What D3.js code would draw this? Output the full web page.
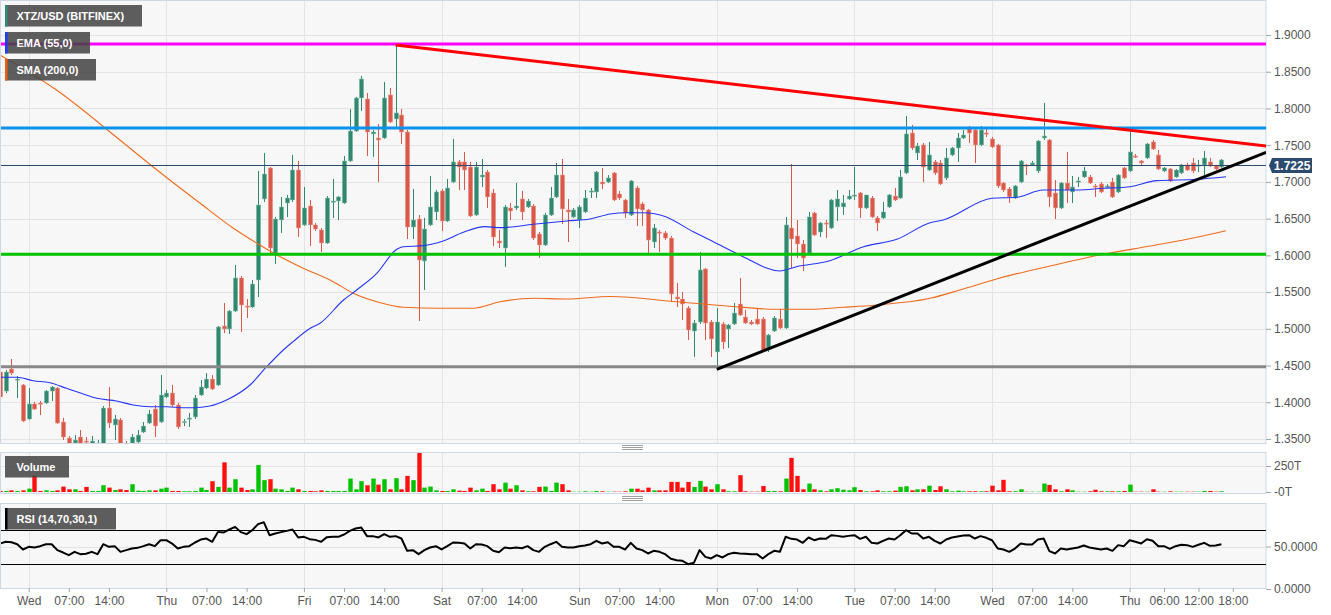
<!DOCTYPE html>
<html><head><meta charset="utf-8">
<script src="https://cdn.jsdelivr.net/npm/d3@7"></script>
<style>
html,body{margin:0;padding:0;background:#fff;}
svg{display:block;font-family:"Liberation Sans",Arial,sans-serif;}
</style></head><body>
<svg id="c" width="1331" height="615"></svg>
<script>
// ---------- DATA ----------
const startHour = -5; // first candle: Tue 19:00 (hours relative to Wed 00:00)
const ohlc = [
[1.4412,1.4466,1.4031,1.4072],[1.4153,1.4439,1.4126,1.4412],[1.4452,1.4589,1.4371,1.4398],[1.4303,1.4357,1.4058,1.4316],[1.4235,1.4249,1.3732,1.3745],
[1.3772,1.4194,1.3759,1.3977],[1.3977,1.4004,1.3895,1.3908],[1.3990,1.4017,1.3827,1.3977],[1.3990,1.4167,1.3977,1.4153],[1.4153,1.4221,1.4017,1.4208],
[1.4194,1.4208,1.3705,1.3718],[1.3732,1.3786,1.3486,1.3527],[1.3513,1.3541,1.3391,1.3432],[1.3445,1.3554,1.3404,1.3486],[1.3527,1.3622,1.3404,1.3432],
[1.3472,1.3527,1.3404,1.3459],[1.3432,1.3541,1.3404,1.3472],[1.3432,1.3486,1.3377,1.3445],[1.3404,1.3949,1.3391,1.3922],[1.3922,1.4208,1.3650,1.3718],
[1.3691,1.3827,1.3486,1.3772],[1.3759,1.3786,1.3391,1.3432],[1.3432,1.3472,1.3363,1.3391],[1.3445,1.3568,1.3404,1.3527],[1.3459,1.3622,1.3432,1.3554],
[1.3595,1.3732,1.3581,1.3677],[1.3718,1.3895,1.3705,1.3841],[1.3908,1.3963,1.3527,1.3677],[1.3732,1.4371,1.3718,1.4099],[1.4072,1.4167,1.4058,1.4126],
[1.4126,1.4235,1.3936,1.3963],[1.3963,1.3990,1.3636,1.3664],[1.3725,1.3772,1.3677,1.3739],[1.3772,1.3854,1.3664,1.3786],[1.3800,1.4099,1.3772,1.4058],
[1.4099,1.4303,1.4085,1.4208],[1.4194,1.4398,1.4181,1.4316],[1.4316,1.4371,1.4167,1.4181],[1.4235,1.5038,1.4221,1.5025],[1.5038,1.5351,1.4943,1.4998],
[1.4998,1.5256,1.4930,1.5242],[1.5242,1.5869,1.5229,1.5692],[1.5692,1.5719,1.4957,1.5324],[1.5310,1.5406,1.5147,1.5297],[1.5297,1.5665,1.5283,1.5610],
[1.5665,1.7149,1.5433,1.6686],[1.6768,1.7394,1.6727,1.7108],[1.7190,1.7203,1.6032,1.6100],[1.6032,1.6523,1.5883,1.6495],[1.6482,1.6795,1.6305,1.6659],
[1.6713,1.6822,1.6523,1.6781],[1.6754,1.7367,1.6727,1.7162],[1.7162,1.7285,1.6250,1.6373],[1.6414,1.6931,1.6400,1.6645],[1.6672,1.6754,1.6127,1.6414],
[1.6414,1.6441,1.6332,1.6359],[1.6346,1.6373,1.6046,1.6168],[1.6168,1.6808,1.6155,1.6781],[1.6727,1.7040,1.6509,1.6740],[1.6740,1.6808,1.6482,1.6795],
[1.6713,1.7353,1.6700,1.7285],[1.7285,1.7993,1.7272,1.7693],[1.7693,1.8156,1.7680,1.8143],[1.8143,1.8442,1.7966,1.8401],[1.8129,1.8211,1.7353,1.7680],
[1.7653,1.7707,1.7340,1.7680],[1.7598,1.7789,1.6999,1.7571],[1.7598,1.8361,1.7585,1.8143],[1.8184,1.8279,1.7802,1.7816],[1.7857,1.8864,1.7748,1.7939],
[1.7911,1.7993,1.7517,1.7680],[1.7680,1.7707,1.6223,1.6386],[1.6386,1.6904,1.6223,1.6482],[1.6495,1.6550,1.5106,1.5937],[1.5924,1.6509,1.5529,1.6359],
[1.6414,1.7081,1.6400,1.6659],[1.6591,1.6890,1.6482,1.6863],[1.6877,1.6904,1.6332,1.6468],[1.6468,1.7040,1.6455,1.6917],[1.6999,1.7585,1.6985,1.7272],
[1.7272,1.7299,1.6890,1.7203],[1.7272,1.7408,1.6890,1.7162],[1.7203,1.7272,1.6523,1.6536],[1.6550,1.7272,1.6536,1.7203],[1.7067,1.7312,1.6931,1.7094],
[1.7135,1.7162,1.6645,1.6795],[1.6849,1.6904,1.6127,1.6250],[1.6196,1.6346,1.6100,1.6168],[1.6100,1.6686,1.5842,1.6659],[1.6645,1.6713,1.6482,1.6604],
[1.6645,1.6985,1.6618,1.6672],[1.6768,1.6877,1.6482,1.6591],[1.6659,1.6768,1.6645,1.6740],[1.6672,1.6700,1.6209,1.6236],[1.6291,1.6318,1.5964,1.6141],
[1.6141,1.6577,1.6127,1.6550],[1.6550,1.6931,1.6536,1.6781],[1.6795,1.7258,1.6781,1.7094],[1.7094,1.7312,1.6427,1.6632],[1.6618,1.6768,1.6182,1.6591],
[1.6523,1.6645,1.6509,1.6618],[1.6482,1.6686,1.6373,1.6659],[1.6591,1.6890,1.6577,1.6781],[1.6863,1.6917,1.6781,1.6877],[1.6863,1.7149,1.6781,1.7135],
[1.6999,1.7190,1.6904,1.6972],[1.6999,1.7094,1.6985,1.7054],[1.7122,1.7135,1.6740,1.6754],[1.6836,1.6877,1.6754,1.6781],[1.6754,1.6768,1.6509,1.6577],
[1.6550,1.7026,1.6536,1.7013],[1.6917,1.6945,1.6400,1.6632],[1.6700,1.6727,1.6400,1.6618],[1.6618,1.6632,1.6032,1.6209],[1.6182,1.6427,1.6100,1.6373],
[1.6318,1.6346,1.6046,1.6305],[1.6305,1.6332,1.6209,1.6236],[1.6236,1.6264,1.5365,1.5474],[1.5433,1.5624,1.5297,1.5406],[1.5406,1.5501,1.5120,1.5338],
[1.5283,1.5310,1.4848,1.4984],[1.4970,1.5120,1.4617,1.5079],[1.5093,1.6046,1.5066,1.5801],[1.5815,1.5828,1.4848,1.5079],[1.5093,1.5120,1.4617,1.4862],
[1.4685,1.5283,1.4453,1.5093],[1.5066,1.5093,1.4725,1.4821],[1.4998,1.5066,1.4739,1.5052],[1.5066,1.5351,1.5052,1.5215],[1.5338,1.5692,1.5174,1.5188],
[1.5161,1.5256,1.5066,1.5079],[1.5093,1.5120,1.5052,1.5066],[1.5133,1.5283,1.5052,1.5066],[1.5133,1.5161,1.4698,1.4712],[1.4739,1.4930,1.4685,1.4916],
[1.4970,1.5174,1.4957,1.5147],[1.5133,1.5270,1.4998,1.5011],[1.5011,1.6523,1.4998,1.6414],[1.6373,1.7244,1.5828,1.6223],[1.6264,1.6482,1.5964,1.6155],
[1.6155,1.6209,1.5787,1.5964],[1.6032,1.6591,1.6019,1.6523],[1.6577,1.6591,1.6264,1.6277],[1.6318,1.6455,1.6250,1.6441],[1.6441,1.6482,1.6236,1.6427],
[1.6373,1.6768,1.6359,1.6754],[1.6659,1.6890,1.6468,1.6768],[1.6659,1.6822,1.6550,1.6713],[1.6768,1.6890,1.6754,1.6808],[1.6808,1.7203,1.6754,1.6822],
[1.6849,1.6863,1.6509,1.6645],[1.6645,1.6822,1.6632,1.6822],[1.6781,1.6808,1.6509,1.6523],[1.6509,1.6536,1.6332,1.6441],[1.6509,1.6727,1.6495,1.6591],
[1.6659,1.6836,1.6645,1.6822],[1.6808,1.6917,1.6740,1.6754],[1.6781,1.7162,1.6768,1.7067],[1.7122,1.7898,1.7108,1.7653],[1.7666,1.7775,1.7435,1.7462],
[1.7394,1.7530,1.7299,1.7489],[1.7503,1.7530,1.6999,1.7203],[1.7162,1.7544,1.7149,1.7367],[1.7272,1.7299,1.7094,1.7122],[1.7258,1.7299,1.6958,1.6972],
[1.7054,1.7462,1.7026,1.7326],[1.7367,1.7476,1.7353,1.7462],[1.7462,1.7666,1.7272,1.7598],[1.7598,1.7707,1.7585,1.7639],[1.7721,1.7762,1.7530,1.7666],
[1.7707,1.7721,1.7258,1.7503],[1.7503,1.7762,1.7489,1.7707],[1.7666,1.7721,1.7612,1.7653],[1.7585,1.7612,1.7462,1.7476],[1.7503,1.7517,1.6917,1.6945],
[1.6985,1.6999,1.6863,1.6890],[1.6904,1.6931,1.6713,1.6795],[1.6781,1.6958,1.6768,1.6945],[1.6999,1.7299,1.6985,1.7285],[1.7231,1.7244,1.7094,1.7217],
[1.7231,1.7285,1.7217,1.7258],[1.7149,1.7571,1.7122,1.7557],[1.7598,1.8075,1.7571,1.7625],[1.7571,1.7585,1.6659,1.6795],[1.6849,1.7026,1.6495,1.6645],
[1.6645,1.6999,1.6632,1.6985],[1.6985,1.7408,1.6713,1.6890],[1.6863,1.7081,1.6713,1.6931],[1.6999,1.7067,1.6931,1.7013],[1.7067,1.7203,1.7054,1.7149],
[1.7067,1.7094,1.6972,1.6985],[1.6945,1.6972,1.6795,1.6931],[1.6972,1.6999,1.6849,1.6863],[1.6931,1.6972,1.6917,1.6945],[1.6999,1.7054,1.6781,1.6795],
[1.6863,1.7108,1.6849,1.7094],[1.7190,1.7203,1.7040,1.7054],[1.7149,1.7680,1.7135,1.7408],[1.7353,1.7380,1.7326,1.7340],[1.7285,1.7299,1.7231,1.7258],
[1.7326,1.7530,1.7312,1.7517],[1.7544,1.7571,1.7435,1.7448],[1.7367,1.7435,1.7162,1.7176],[1.7149,1.7203,1.7135,1.7190],[1.7176,1.7190,1.6999,1.7013],
[1.7067,1.7176,1.7054,1.7162],[1.7122,1.7244,1.7108,1.7231],[1.7231,1.7258,1.7149,1.7162],[1.7258,1.7326,1.7122,1.7149],[1.7217,1.7299,1.7135,1.7231],
[1.7231,1.7421,1.7094,1.7326],[1.7272,1.7326,1.7203,1.7217],[1.7217,1.7231,1.7162,1.7176],[1.7203,1.7312,1.7190,1.7299]
];
const volume = [
10,10,16,10,16,32,155,10,16,10,16,52,26,26,10,49,10,10,65,42,19,26,19,75,13,10,16,16,32,42,10,10,7,7,10,42,19,104,49,285,
42,123,42,19,26,260,114,123,32,26,10,42,26,10,10,7,16,10,10,10,10,129,26,104,65,129,71,123,26,133,26,155,114,389,42,52,16,10,10,26,
13,10,42,16,32,10,75,26,90,32,65,16,7,7,49,52,10,90,75,16,3,3,7,3,10,7,3,3,3,7,32,32,16,42,16,16,16,97,97,42,
97,49,107,52,26,75,26,7,7,162,7,3,3,58,10,10,7,129,328,155,26,81,26,16,7,26,36,22,16,46,19,7,7,16,7,7,13,49,55,16,
26,26,61,19,55,26,7,13,7,7,7,7,7,61,16,117,7,7,26,3,3,3,81,68,26,7,26,16,3,3,7,22,7,7,7,7,10,71,3,3,
3,26,3,3,7,3,3,3,3,3,10,10,3,7
];
const rsi = [
53.5,55.5,55,52.7,46.5,49.6,48.8,50.4,52.7,52.7,45.7,42.9,39.8,43.7,41,41.4,43.7,41,52.7,49.6,
50.4,43.7,45.7,47.6,48.4,50.4,52.7,50.4,57.4,57.4,53.5,47.6,49.6,50.4,54.7,58.2,59.4,55.5,67.2,66.5,
70,73.1,66.9,64.5,69.2,76.3,78.6,63.3,65.3,66.9,68.4,70,60.6,61.4,58.6,57.8,55.5,61,61.4,61.4,
64.1,68.4,71.2,72.3,62.2,62.2,60.6,64.5,61.4,62.2,59.4,44.9,45.7,41,45.7,48.8,50.4,46.5,50.4,54.7,
54.3,53.5,47.6,52.7,52.4,50.4,44.9,43.3,48.8,48,48.8,48,50.4,45.7,43.7,49.6,52.7,55.5,49.6,48.8,
48.8,50.4,51.2,52.7,56.7,53.5,55.1,49.6,49.6,46.5,54.3,47.6,45.7,41.8,44.9,43.7,41,35.5,33.9,33.1,
29.2,30.8,45.7,37.8,35.9,39.8,37.1,41,42.6,41.8,41.4,41,41,35.9,41,44.9,43.7,61.4,59,58.2,
54.3,60.6,57.4,59.4,59,63.3,62.5,61.4,62.5,63.3,59,61.4,54.3,53.5,56.7,59.4,58.2,63.3,69.2,65.3,
65.3,59.4,61.4,56.7,53.5,58.2,60.6,61.8,62.9,63.3,59.4,62.2,60.2,57.4,47.6,46.5,43.7,47.6,53.5,52.4,
52.4,58.2,59.4,44.5,41.8,47.6,46.5,47.6,48.8,51.2,48.8,47.6,46.5,47.6,44.9,51.6,50.4,57.4,55.5,53.5,
58.6,56.7,50.4,50.4,47.3,50.4,52,51.6,49.6,52,54.3,50.8,51.2,52.7
];
// [hour, price] readings of the indicator lines
const ema55 = [[-5,1.4340],[-2.1,1.4340],[0.8,1.4294],[3.7,1.4266],[6.6,1.4190],[9.5,1.4113],[11.9,1.4054],[15.3,1.4017],[18.2,1.3963],[21.2,1.3940],[24.1,1.3940],[27,1.3926],[28.7,1.3926],[31.6,1.3949],[34.5,1.4031],[38.6,1.4235],[41.5,1.4484],[44.4,1.4712],[46.1,1.4825],[49.1,1.5007],[50.8,1.5075],[54.9,1.5392],[57.2,1.5529],[60.7,1.5756],[64.2,1.6083],[65.3,1.6118],[68.8,1.6132],[72.3,1.6196],[75.8,1.6314],[79.6,1.6391],[82.2,1.6377],[88,1.6423],[93.8,1.6468],[97.9,1.6495],[101.4,1.6563],[104.3,1.6581],[107.2,1.6581],[110.7,1.6536],[115.9,1.6322],[118.8,1.6209],[124.6,1.5982],[131,1.5787],[133.9,1.5846],[139.7,1.5927],[145.6,1.6118],[151.4,1.6219],[157.2,1.6445],[159.5,1.6482],[168,1.6777],[172.3,1.6791],[176.9,1.6890],[182.8,1.6890],[187.4,1.6913],[192.1,1.6935],[196.7,1.7017],[203.7,1.7036],[208.8,1.7071]];
const sma200 = [[-5,1.8728],[4.6,1.8265],[15.9,1.7571],[21.5,1.7217],[29.9,1.6709],[35.7,1.6369],[39.8,1.6165],[43.3,1.6005],[47.3,1.5846],[53.1,1.5642],[56.6,1.5484],[61.3,1.5356],[65.3,1.5293],[71.7,1.5280],[77.5,1.5280],[82.2,1.5369],[88,1.5416],[93.8,1.5406],[101.4,1.5440],[113,1.5369],[121.7,1.5311],[130.4,1.5266],[136.3,1.5266],[142.1,1.5293],[147.9,1.5325],[157.2,1.5416],[162.4,1.5529],[169.4,1.5692],[178.1,1.5855],[186.8,1.6005],[195.6,1.6128],[202,1.6219],[208.8,1.6336]];
const levelValues = [1.8878, 1.7734, 1.6015, 1.4484];
const levelColors = ["#ff00ff", "#0b93ec", "#00c400", "#888888"];
const lastPrice = 1.7225;
const trendRed = [[64, 1.8864], [215.8, 1.7489]];
const trendBlack = [[120, 1.4449], [215.8, 1.7403]];
const priceTicks = [1.35,1.40,1.45,1.50,1.55,1.60,1.65,1.70,1.75,1.80,1.85,1.90];
const volTicks = [0, 250];
const volTickLabels = ["-0T", "250T"];
const rsiTicks = [0, 50];
const rsiTickLabels = ["0.0000", "50.0000"];
const rsiBands = [70, 30];
const timeTicks = [0,7,14,24,31,38,48,55,62,72,79,86,96,103,110,120,127,134,144,151,158,168,175,182,192,198,204,210];
const timeTickLabels = ["Wed","07:00","14:00","Thu","07:00","14:00","Fri","07:00","14:00","Sat","07:00","14:00","Sun","07:00","14:00","Mon","07:00","14:00","Tue","07:00","14:00","Wed","07:00","14:00","Thu","06:00","12:00","18:00"];
const dayHours = [0,24,48,72,96,120,144,168,192];
const legends = [
  {text:"XTZ/USD (BITFINEX)", accent:"#2e8b7a"},
  {text:"EMA (55,0)", accent:"#1a3cff"},
  {text:"SMA (200,0)", accent:"#e8600f"}
];

// ---------- LAYOUT ----------
const W = 1331, H = 615;
const plotR = 1266;
const main = {top:0, bottom:443};
const volP = {top:452, bottom:493};
const rsiP = {top:503, bottom:588};
const GREEN = "#30896f", RED = "#d9584a";
const VGREEN = "#00c400", VRED = "#ff1010";
const AXIS_TXT = "#555";

const svg = d3.select("#c");
const x = d3.scaleLinear().domain([-5.005, 215.78]).range([0, plotR]);
const y = d3.scaleLinear().domain([1.35, 1.9]).range([439, 35]);
const yv = d3.scaleLinear().domain([0, 250]).range([492, 466]);
const yr = d3.scaleLinear().domain([0, 100]).range([589, 504]);

const candles = ohlc.map((d, i) => ({h: startHour + i, o: d[0], hi: d[1], lo: d[2], c: d[3]}));

function panel(p, id) {
  svg.append("rect").attr("x", 0.5).attr("y", p.top + 0.5).attr("width", plotR - 0.5).attr("height", p.bottom - p.top)
    .attr("fill", "#f7f7f7").attr("stroke", "#cfd6e4");
  svg.append("clipPath").attr("id", id).append("rect").attr("x", 1).attr("y", p.top + 1).attr("width", plotR - 1).attr("height", p.bottom - p.top - 1);
}
panel(main, "cm"); panel(volP, "cv"); panel(rsiP, "cr");

// grids
const g = svg.append("g").attr("stroke", "#e4e4e4").attr("stroke-width", 1);
priceTicks.forEach(v => g.append("line").attr("x1", 1).attr("x2", plotR).attr("y1", Math.round(y(v)) + 0.5).attr("y2", Math.round(y(v)) + 0.5));
g.append("line").attr("x1", 1).attr("x2", plotR).attr("y1", Math.round(yv(250)) + 0.5).attr("y2", Math.round(yv(250)) + 0.5);
g.append("line").attr("x1", 1).attr("x2", plotR).attr("y1", Math.round(yr(50)) + 0.5).attr("y2", Math.round(yr(50)) + 0.5);
[main, volP, rsiP].forEach(p => dayHours.forEach(hh => {
  const xx = Math.round(x(hh)) + 0.5;
  g.append("line").attr("x1", xx).attr("x2", xx).attr("y1", p.top + 1).attr("y2", p.bottom);
}));

// ---------- MAIN ----------
const m = svg.append("g").attr("clip-path", "url(#cm)");
const cw = 4.4;
m.selectAll("line.w").data(candles).join("line")
  .attr("x1", d => Math.round(x(d.h)) + 0.5).attr("x2", d => Math.round(x(d.h)) + 0.5)
  .attr("y1", d => y(d.hi)).attr("y2", d => y(d.lo))
  .attr("stroke", d => d.c >= d.o ? GREEN : RED).attr("stroke-width", 1);
m.selectAll("rect.b").data(candles).join("rect")
  .attr("x", d => Math.round(x(d.h)) + 0.5 - cw / 2).attr("width", cw)
  .attr("y", d => y(Math.max(d.o, d.c)))
  .attr("height", d => Math.max(1.2, Math.abs(y(d.o) - y(d.c))))
  .attr("fill", d => d.c >= d.o ? GREEN : RED)
  .attr("stroke", d => d.c >= d.o ? "#8fc4b3" : "#eea397").attr("stroke-width", 0.5);

const line = d3.line().x(d => x(d[0])).y(d => y(d[1])).curve(d3.curveMonotoneX);
m.append("path").attr("d", line(sma200)).attr("fill", "none").attr("stroke", "#f06a1c").attr("stroke-width", 1.1);
m.append("path").attr("d", line(ema55)).attr("fill", "none").attr("stroke", "#2536f5").attr("stroke-width", 1.1);

levelValues.forEach((v, i) => m.append("line").attr("x1", 0).attr("x2", plotR).attr("y1", y(v)).attr("y2", y(v))
  .attr("stroke", levelColors[i]).attr("stroke-width", 3));
m.append("line").attr("x1", 0).attr("x2", plotR).attr("y1", Math.round(y(lastPrice)) + 0.5).attr("y2", Math.round(y(lastPrice)) + 0.5)
  .attr("stroke", "#2b4a6e").attr("stroke-width", 1);

const tl = d3.line().x(d => x(d[0])).y(d => y(d[1]));
m.append("path").attr("d", tl(trendRed)).attr("stroke", "#ff0000").attr("stroke-width", 3).attr("fill", "none");
m.append("path").attr("d", tl(trendBlack)).attr("stroke", "#000").attr("stroke-width", 3).attr("fill", "none");

// ---------- VOLUME ----------
const vg = svg.append("g").attr("clip-path", "url(#cv)");
vg.selectAll("rect").data(candles).join("rect")
  .attr("x", d => Math.round(x(d.h)) + 0.5 - cw / 2).attr("width", cw)
  .attr("y", (d, i) => yv(volume[i]))
  .attr("height", (d, i) => yv(0) - yv(volume[i]))
  .attr("fill", d => d.c >= d.o ? VGREEN : VRED);

// ---------- RSI ----------
const rg = svg.append("g").attr("clip-path", "url(#cr)");
rsiBands.forEach(v => rg.append("line").attr("x1", 0).attr("x2", plotR).attr("y1", Math.round(yr(v)) + 0.5).attr("y2", Math.round(yr(v)) + 0.5)
  .attr("stroke", "#000").attr("stroke-width", 1));
rg.append("path").datum(rsi).attr("fill", "none").attr("stroke", "#000").attr("stroke-width", 2)
  .attr("stroke-linejoin", "round")
  .attr("d", d3.line().x((d, i) => x(startHour + i)).y(d => yr(d)));

// ---------- AXES ----------
function styleAxis(sel) {
  sel.select(".domain").remove();
  sel.selectAll(".tick line").attr("stroke", "#9aa");
  sel.selectAll(".tick text").attr("fill", AXIS_TXT).style("font-size", "12px").style("font-family", '"Liberation Sans",Arial,sans-serif');
}
svg.append("g").attr("transform", `translate(${plotR},0)`)
  .call(d3.axisRight(y).tickValues(priceTicks).tickFormat(d3.format(".4f")).tickSize(5).tickPadding(3)).call(styleAxis);
svg.append("g").attr("transform", `translate(${plotR},0)`)
  .call(d3.axisRight(yv).tickValues(volTicks).tickFormat((d, i) => volTickLabels[i]).tickSize(5).tickPadding(3)).call(styleAxis);
svg.append("g").attr("transform", `translate(${plotR},0)`)
  .call(d3.axisRight(yr).tickValues(rsiTicks).tickFormat((d, i) => rsiTickLabels[i]).tickSize(5).tickPadding(3)).call(styleAxis);
svg.append("g").attr("transform", `translate(0,${rsiP.bottom})`)
  .call(d3.axisBottom(x).tickValues(timeTicks).tickFormat((d, i) => timeTickLabels[i]).tickSize(4).tickPadding(4)).call(styleAxis);

// last price tag
const ly = y(lastPrice);
svg.append("path").attr("d", `M${plotR + 3},${ly} L${plotR + 6},${ly - 7.5} H${plotR + 46} V${ly + 7.5} H${plotR + 6} Z`).attr("fill", "#2b4a6e");
svg.append("text").attr("x", plotR + 26).attr("y", ly + 4.5).attr("text-anchor", "middle").attr("fill", "#fff")
  .style("font-size", "12px").style("font-weight", "bold").text(lastPrice.toFixed(4));

// separators (drag handles)
[448, 499].forEach(cy => {
  [-2, 0, 2].forEach(o => svg.append("line").attr("x1", 622).attr("x2", 643).attr("y1", cy + o - 0.5).attr("y2", cy + o - 0.5)
    .attr("stroke", "#888").attr("stroke-width", 0.8));
});

// legends
function legendBox(x0, y0, w, text, accent) {
  svg.append("rect").attr("x", x0).attr("y", y0).attr("width", w).attr("height", 21.5).attr("fill", "rgba(68,68,68,0.86)");
  if (accent) svg.append("rect").attr("x", x0).attr("y", y0).attr("width", 2.5).attr("height", 21.5).attr("fill", accent);
  svg.append("text").attr("x", x0 + 11.5).attr("y", y0 + 15).attr("fill", "#fff")
    .style("font-size", "11px").style("font-weight", "bold").text(text);
}
legendBox(5, 5, 137, legends[0].text, legends[0].accent);
legendBox(5, 32, 85, legends[1].text, legends[1].accent);
legendBox(5, 59, 91, legends[2].text, legends[2].accent);
legendBox(5, 456, 64, "Volume", null);
legendBox(5, 508, 111, "RSI (14,70,30,1)", "#000");
</script>
</body></html>
